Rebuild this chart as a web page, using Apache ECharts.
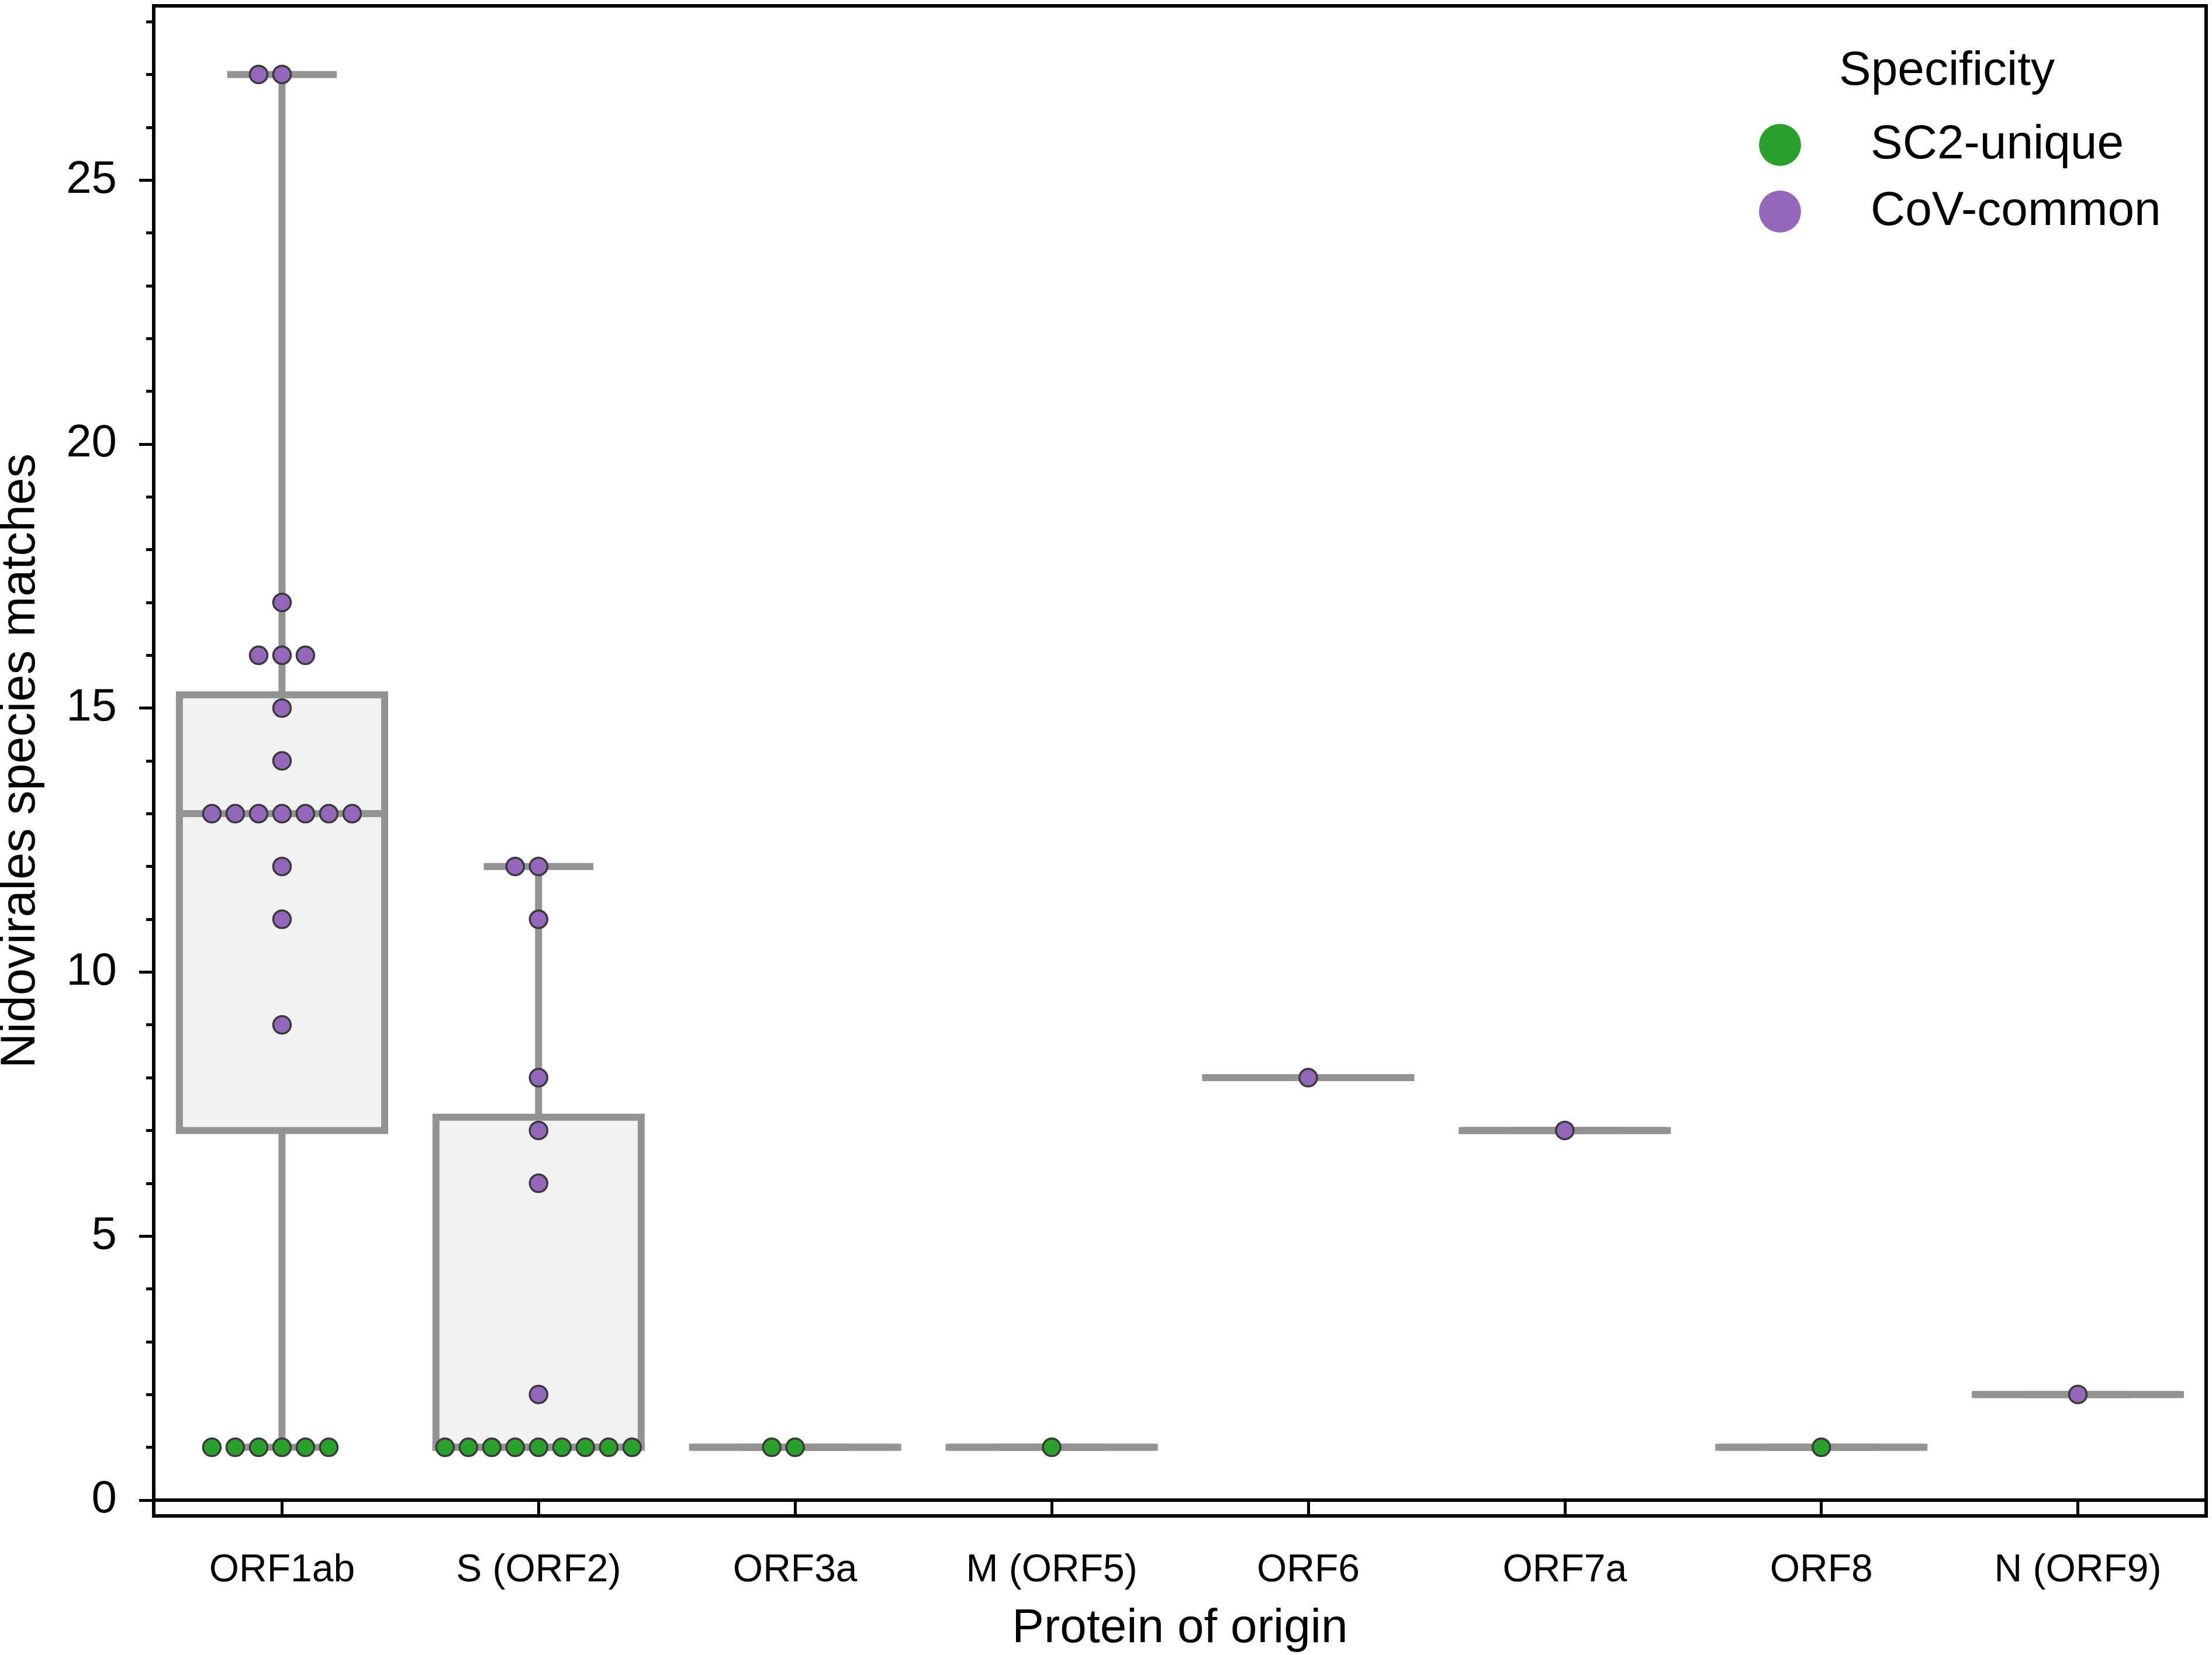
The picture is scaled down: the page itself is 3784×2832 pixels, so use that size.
<!DOCTYPE html>
<html>
<head>
<meta charset="utf-8">
<title>Nidovirales species matches by protein of origin</title>
<script src="https://cdn.jsdelivr.net/npm/echarts@6.0.0/dist/echarts.min.js"></script>
<style>
  html, body { margin: 0; padding: 0; background: #fff; }
  #chart { width: 3784px; height: 2832px; }
</style>
</head>
<body>
<div id="chart"></div>
<script>
// categories along x
const categories = ['ORF1ab', 'S (ORF2)', 'ORF3a', 'M (ORF5)', 'ORF6', 'ORF7a', 'ORF8', 'N (ORF9)'];

// points per category, split by specificity
const sc2Unique = [
    [1, 1, 1, 1, 1, 1],
    [1, 1, 1, 1, 1, 1, 1, 1, 1],
    [1, 1],
    [1],
    [],
    [],
    [1],
    []
];
const covCommon = [
    [27, 27, 17, 16, 16, 16, 15, 14, 13, 13, 13, 13, 13, 13, 13, 12, 11, 9],
    [12, 12, 11, 8, 7, 6, 2],
    [],
    [],
    [8],
    [7],
    [],
    [2]
];

// y axis
const yMin = -0.3;
const yMax = 28.3;
const yMajorTicks = [0, 5, 10, 15, 20, 25];
const yMinorTicks = [1, 2, 3, 4, 6, 7, 8, 9, 11, 12, 13, 14, 16, 17, 18, 19, 21, 22, 23, 24, 26, 27, 28];

const FONT = '"Liberation Sans", Arial, Helvetica, sans-serif';
const BOX_LINE = '#939393';
const BOX_FILL = '#f2f2f2';
const GREEN = '#2ca02c';
const PURPLE = '#9467bd';
const EDGE = '#3a3a3a';
const SWARM_STEP = 40;

// quantile with linear interpolation
function quantile(sorted, p) {
    const h = (sorted.length - 1) * p;
    const lo = Math.floor(h);
    const next = lo + 1 < sorted.length ? sorted[lo + 1] : sorted[lo];
    return sorted[lo] + (h - lo) * (next - sorted[lo]);
}

// box stats: [catIndex, lowWhisker, q1, median, q3, highWhisker]
function boxStats() {
    const out = [];
    categories.forEach((c, i) => {
        const vals = sc2Unique[i].concat(covCommon[i]).sort((a, b) => a - b);
        if (!vals.length) return;
        const q1 = quantile(vals, 0.25);
        const med = quantile(vals, 0.5);
        const q3 = quantile(vals, 0.75);
        const iqr = q3 - q1;
        const inside = vals.filter(v => v >= q1 - 1.5 * iqr && v <= q3 + 1.5 * iqr);
        out.push([i, inside[0], q1, med, q3, inside[inside.length - 1]]);
    });
    return out;
}

// swarm slot order: 0, -1, +1, -2, +2 ...
function swarmPoints(groups) {
    const pts = [];
    groups.forEach((vals, i) => {
        const seen = {};
        vals.forEach(v => {
            const k = seen[v] || 0;
            seen[v] = k + 1;
            const slot = k === 0 ? 0 : (k % 2 === 1 ? -(k + 1) / 2 : k / 2);
            pts.push({ value: [i, v], symbolOffset: [slot * SWARM_STEP, 0] });
        });
    });
    return pts;
}

function renderBox(params, api) {
    const idx = api.value(0);
    const half = api.size([1, 0])[0] * 0.8 / 2;
    const pt = v => api.coord([idx, v]);
    const lo = pt(api.value(1));
    const q1 = pt(api.value(2));
    const med = pt(api.value(3));
    const q3 = pt(api.value(4));
    const hi = pt(api.value(5));
    const cx = med[0];
    const line = { stroke: BOX_LINE, lineWidth: 12, lineCap: 'square' };
    return {
        type: 'group',
        children: [
            { type: 'line', shape: { x1: cx, y1: q3[1], x2: cx, y2: hi[1] }, style: line },
            { type: 'line', shape: { x1: cx, y1: q1[1], x2: cx, y2: lo[1] }, style: line },
            { type: 'line', shape: { x1: cx - half / 2, y1: hi[1], x2: cx + half / 2, y2: hi[1] }, style: line },
            { type: 'line', shape: { x1: cx - half / 2, y1: lo[1], x2: cx + half / 2, y2: lo[1] }, style: line },
            {
                type: 'rect',
                shape: { x: cx - half, y: q3[1], width: half * 2, height: q1[1] - q3[1] },
                style: { fill: BOX_FILL, stroke: BOX_LINE, lineWidth: 12, lineJoin: 'miter' }
            },
            { type: 'line', shape: { x1: cx - half, y1: med[1], x2: cx + half, y2: med[1] }, style: line }
        ]
    };
}

const chart = echarts.init(document.getElementById('chart'), null, { renderer: 'canvas' });

const pointStyle = {
    type: 'scatter',
    symbol: 'circle',
    symbolSize: 30,
    z: 5
};

const option = {
    animation: false,
    backgroundColor: '#ffffff',
    textStyle: { fontFamily: FONT, color: '#000' },
    title: {
        text: 'Specificity',
        left: 3146,
        top: 81,
        padding: 0,
        textStyle: { fontFamily: FONT, fontSize: 82, fontWeight: 'normal', color: '#000', lineHeight: 82 }
    },
    legend: {
        orient: 'vertical',
        left: 3009,
        top: 207,
        padding: 0,
        itemWidth: 72,
        itemHeight: 72,
        itemGap: 32,
        icon: 'circle',
        selectedMode: false,
        itemStyle: { borderWidth: 0, opacity: 1 },
        textStyle: { fontFamily: FONT, fontSize: 82, color: '#000', lineHeight: 72, padding: [0, 0, 0, 114] },
        data: ['SC2-unique', 'CoV-common']
    },
    grid: {
        left: 263,
        right: 10,
        top: 10,
        bottom: 238,
        show: true,
        borderColor: '#000',
        borderWidth: 6,
        backgroundColor: 'transparent',
        containLabel: false,
        outerBoundsMode: 'none'
    },
    xAxis: {
        type: 'category',
        data: categories,
        boundaryGap: true,
        name: 'Protein of origin',
        nameLocation: 'middle',
        nameGap: 152,
        nameTextStyle: { fontFamily: FONT, fontSize: 82, color: '#000', lineHeight: 82 },
        axisLine: { lineStyle: { color: '#000', width: 6 } },
        axisTick: { show: true, alignWithLabel: true, length: 26, lineStyle: { color: '#000', width: 5 } },
        axisLabel: { interval: 0, fontFamily: FONT, fontSize: 66, color: '#000', margin: 61, lineHeight: 66 },
        splitLine: { show: false }
    },
    yAxis: [
        {
            type: 'value',
            min: yMin,
            max: yMax,
            name: 'Nidovirales species matches',
            nameLocation: 'middle',
            nameGap: 185,
            nameTextStyle: { fontFamily: FONT, fontSize: 83, color: '#000', lineHeight: 83 },
            axisLine: { show: true, lineStyle: { color: '#000', width: 6 } },
            axisTick: { show: true, length: 25, customValues: yMajorTicks, lineStyle: { color: '#000', width: 5 } },
            axisLabel: { fontFamily: FONT, fontSize: 78, color: '#000', margin: 63, customValues: yMajorTicks },
            splitLine: { show: false }
        },
        {
            type: 'value',
            min: yMin,
            max: yMax,
            position: 'left',
            offset: 0,
            axisLine: { show: false },
            axisTick: { show: true, length: 13, customValues: yMinorTicks, lineStyle: { color: '#000', width: 5 } },
            axisLabel: { show: false },
            splitLine: { show: false }
        }
    ],
    series: [
        {
            name: 'boxes',
            type: 'custom',
            renderItem: renderBox,
            encode: { x: 0, y: [1, 2, 3, 4, 5] },
            data: boxStats(),
            z: 2,
            silent: true
        },
        Object.assign({}, pointStyle, {
            name: 'SC2-unique',
            itemStyle: { color: GREEN, borderColor: EDGE, borderWidth: 3.5, opacity: 1 },
            data: swarmPoints(sc2Unique)
        }),
        Object.assign({}, pointStyle, {
            name: 'CoV-common',
            itemStyle: { color: PURPLE, borderColor: EDGE, borderWidth: 3.5, opacity: 1 },
            data: swarmPoints(covCommon)
        })
    ]
};

chart.setOption(option);
</script>
</body>
</html>
